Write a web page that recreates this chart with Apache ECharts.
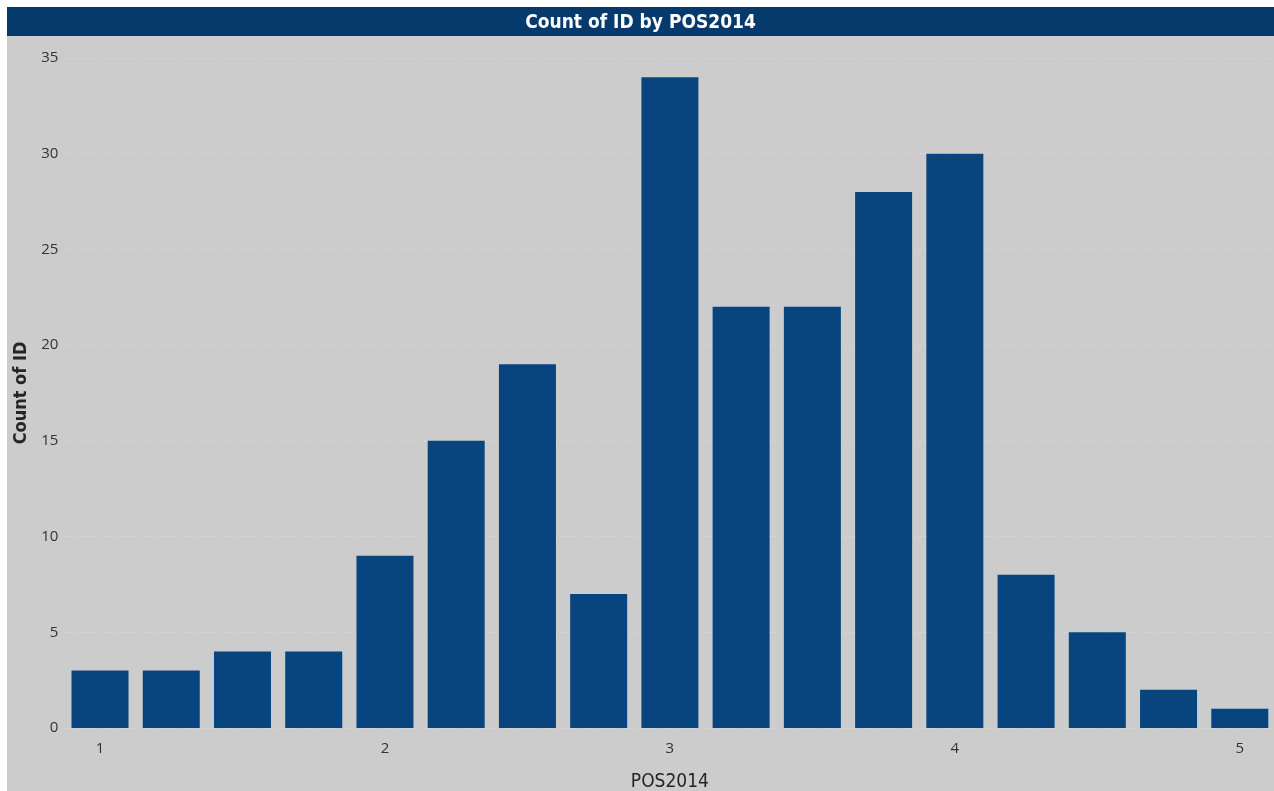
<!DOCTYPE html>
<html>
<head>
<meta charset="utf-8">
<script src="https://cdn.jsdelivr.net/npm/echarts@6/dist/echarts.min.js"></script>
<style>
  html, body { margin: 0; padding: 0; background: #ffffff; }
  #chart { position: absolute; left: 7px; top: 7px; width: 1267px; height: 784px; }
</style>
</head>
<body>
<div id="chart"></div>
<script>
// POS2014 buckets (step 0.25) and count of ID per bucket
const positions = [1, 1.25, 1.5, 1.75, 2, 2.25, 2.5, 2.75, 3, 3.25, 3.5, 3.75, 4, 4.25, 4.5, 4.75, 5]
const counts = [3, 3, 4, 4, 9, 15, 19, 7, 34, 22, 22, 28, 30, 8, 5, 2, 1]
const yTicks = [0, 5, 10, 15, 20, 25, 30, 35]

const chart = echarts.init(document.getElementById('chart'))

const option = {
  backgroundColor: '#cccccc',
  animation: false,
  graphic: [
    {
      type: 'rect',
      left: 0,
      top: 0,
      z: 0,
      shape: { width: 1267, height: 29 },
      style: { fill: '#073a6c' }
    }
  ],
  title: {
    text: 'Count of ID by POS2014',
    left: 'center',
    top: 2,
    z: 10,
    textStyle: {
      color: '#ffffff',
      fontFamily: 'DejaVu Sans Condensed',
      fontWeight: 'bold',
      fontSize: 19
    }
  },
  grid: {
    left: 57.4,
    top: 51,
    width: 1211,
    height: 670,
    outerBoundsMode: 'none',
    containLabel: false
  },
  xAxis: {
    type: 'category',
    data: positions.map(String),
    name: 'POS2014',
    nameLocation: 'middle',
    nameGap: 45,
    nameTextStyle: {
      color: '#252525',
      fontFamily: 'DejaVu Sans Condensed',
      fontSize: 19
    },
    axisLine: { show: false },
    axisTick: { show: false },
    axisLabel: {
      interval: 3,
      margin: 13,
      color: '#333333',
      fontFamily: 'Open Sans',
      fontSize: 15
    }
  },
  yAxis: {
    type: 'value',
    min: yTicks[0],
    max: yTicks[yTicks.length - 1],
    interval: 5,
    name: 'Count of ID',
    nameLocation: 'middle',
    nameGap: 32,
    nameTextStyle: {
      color: '#252525',
      fontFamily: 'DejaVu Sans Condensed',
      fontWeight: 'bold',
      fontSize: 18
    },
    axisLine: { show: false },
    axisTick: { show: false },
    axisLabel: {
      margin: 6,
      color: '#333333',
      fontFamily: 'Open Sans',
      fontSize: 15
    },
    splitLine: {
      lineStyle: { color: '#dadada', type: [2, 3], width: 1 }
    }
  },
  series: [
    {
      type: 'bar',
      data: counts,
      barWidth: 57,
      itemStyle: { color: '#08457f' }
    }
  ]
}

chart.setOption(option)
</script>
</body>
</html>
